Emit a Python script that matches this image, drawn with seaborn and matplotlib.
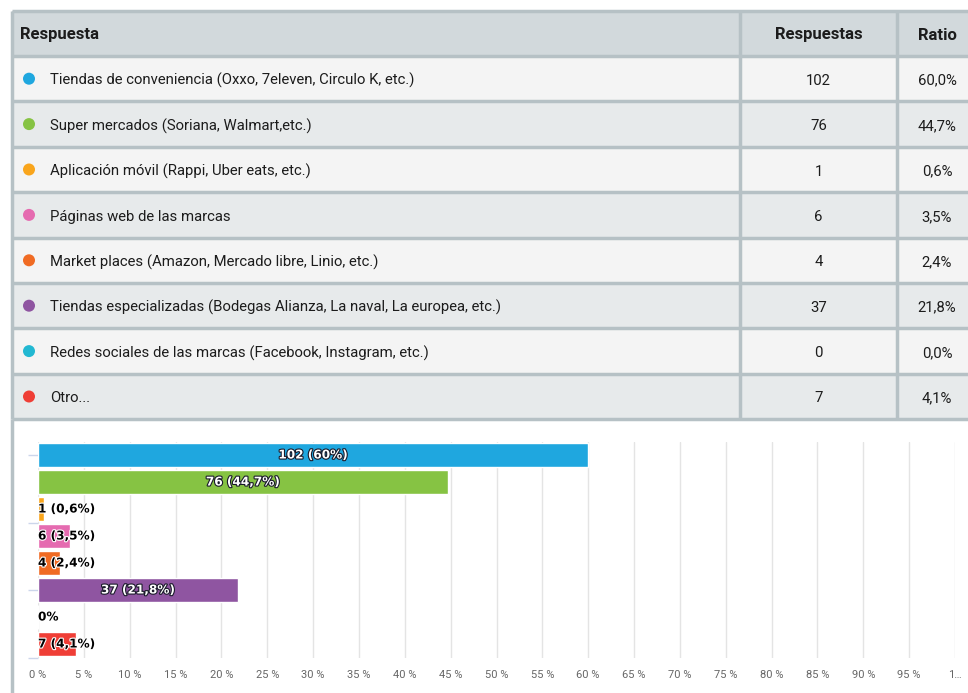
import matplotlib
matplotlib.use("Agg")
import matplotlib.pyplot as plt
import matplotlib.patheffects as pe
from matplotlib.patches import Rectangle, Circle
import seaborn as sns
import pandas as pd

# ---------------- data ----------------
categories = [
    "Tiendas de conveniencia (Oxxo, 7eleven, Circulo K, etc.)",
    "Super mercados (Soriana, Walmart,etc.)",
    "Aplicación móvil (Rappi, Uber eats, etc.)",
    "Páginas web de las marcas",
    "Market places (Amazon, Mercado libre, Linio, etc.)",
    "Tiendas especializadas (Bodegas Alianza, La naval, La europea, etc.)",
    "Redes sociales de las marcas (Facebook, Instagram, etc.)",
    "Otro...",
]
counts = [102, 76, 1, 6, 4, 37, 0, 7]
ratio_labels = ["60,0%", "44,7%", "0,6%", "3,5%", "2,4%", "21,8%", "0,0%", "4,1%"]
percents = [60.0, 44.7, 0.6, 3.5, 2.4, 21.8, 0.0, 4.1]
bar_labels = ["102 (60%)", "76 (44,7%)", "1 (0,6%)", "6 (3,5%)", "4 (2,4%)",
              "37 (21,8%)", "0%", "7 (4,1%)"]
colors = ["#1fa7df", "#86c343", "#f9a51c", "#e56bb0", "#f06b23",
          "#8f55a1", "#22b8d2", "#ef3e36"]
header = ["Respuesta", "Respuestas", "Ratio"]
xtick_values = list(range(0, 101, 5))
xtick_labels = [f"{v} %" for v in xtick_values[:-1]] + ["1…"]

# ---------------- figure ----------------
sns.set_theme(style="white")
plt.rcParams["font.family"] = ["Roboto", "DejaVu Sans"]

W, H = 968, 693
fig = plt.figure(figsize=(W / 100, H / 100), dpi=100)
fig.patch.set_facecolor("white")

bg = fig.add_axes([0, 0, 1, 1])
bg.set_xlim(0, W)
bg.set_ylim(H, 0)
bg.axis("off")

border = "#b6c1c5"
head_bg = "#d2d9dc"
light_bg = "#f4f4f4"
dark_bg = "#e7eaeb"
txt = "#1c1c1c"

tx0, tx1 = 12, 990
col1, col2 = 740, 897
row_top = 11
head_h = 45
row_h = 45.4
fs = 10.7
hfs = 12

# header
bg.add_patch(Rectangle((tx0, row_top), tx1 - tx0, head_h, facecolor=head_bg, edgecolor="none"))
yc = row_top + head_h / 2 + 1.5
bg.text(20, yc, header[0], ha="left", va="center", fontsize=hfs, fontweight="bold", color=txt)
bg.text((col1 + col2) / 2, yc, header[1], ha="center", va="center", fontsize=hfs, fontweight="bold", color=txt)
bg.text(937, yc, header[2], ha="center", va="center", fontsize=hfs, fontweight="bold", color=txt)

# rows
for i, (cat, n, r, c) in enumerate(zip(categories, counts, ratio_labels, colors)):
    y0 = row_top + head_h + i * row_h
    bg.add_patch(Rectangle((tx0, y0), tx1 - tx0, row_h,
                           facecolor=light_bg if i % 2 == 0 else dark_bg, edgecolor="none"))
    yc = y0 + row_h / 2
    bg.add_patch(Circle((29, yc), 6, facecolor=c, edgecolor="none"))
    bg.text(50, yc + 2, cat, ha="left", va="center", fontsize=fs, color=txt)
    bg.text((col1 + col2) / 2, yc + 2, str(n), ha="center", va="center", fontsize=fs, color=txt)
    bg.text(937, yc + 2, r, ha="center", va="center", fontsize=fs, color=txt)

table_bottom = row_top + head_h + len(categories) * row_h
# horizontal lines
for k in range(len(categories) + 2):
    y = row_top if k == 0 else row_top + head_h + (k - 1) * row_h
    bg.plot([tx0, tx1], [y, y], color=border, lw=2.5, solid_capstyle="butt")
# vertical lines
for x in (tx0, col1, col2):
    bg.plot([x, x], [row_top, table_bottom], color=border, lw=2.5, solid_capstyle="butt")
# chart box left border
bg.plot([tx0, tx0], [table_bottom, H], color=border, lw=2.5, solid_capstyle="butt")

# ---------------- bar chart ----------------
ax_left, ax_right = 38, 955
ax_top, ax_bot = 441.5, 657.5
ax = fig.add_axes([ax_left / W, 1 - ax_bot / H, (ax_right - ax_left) / W, (ax_bot - ax_top) / H])
ax.set_facecolor("none")

df = pd.DataFrame({"cat": categories, "pct": percents})
sns.barplot(data=df, y="cat", x="pct", hue="cat", palette=dict(zip(categories, colors)),
            orient="h", width=0.9, saturation=1, edgecolor="white", linewidth=1,
            legend=False, ax=ax)

ax.set_xlim(0, 100)
ax.set_xticks(xtick_values)
ax.set_xticklabels(xtick_labels)
ax.tick_params(axis="x", length=0, pad=9, labelsize=8, labelcolor="#666666")
ax.xaxis.grid(True, color="#e4e4e4", lw=1)
ax.set_axisbelow(True)
ax.set_yticks([0, 2.5, 5, 7.5])
ax.set_yticklabels([])
ax.set_ylim(7.5, -0.5)
ax.tick_params(axis="y", length=7, width=1, color="#ccd6eb", left=True, pad=0)
for s in ax.spines.values():
    s.set_visible(False)
ax.set_xlabel("")
ax.set_ylabel("")

for i, (p, lab) in enumerate(zip(percents, bar_labels)):
    if p > 10:
        ax.text(p / 2, i, lab, ha="center", va="center", fontsize=8.7, fontweight="bold",
                color="white", family="DejaVu Sans",
                path_effects=[pe.withStroke(linewidth=1.6, foreground="#1a1a2a")])
    else:
        ax.text(0, i, lab, ha="left", va="center", fontsize=8.7, fontweight="bold",
                color="black", family="DejaVu Sans",
                path_effects=[pe.withStroke(linewidth=1.6, foreground="white")])

fig.savefig("out.png", dpi=100)
